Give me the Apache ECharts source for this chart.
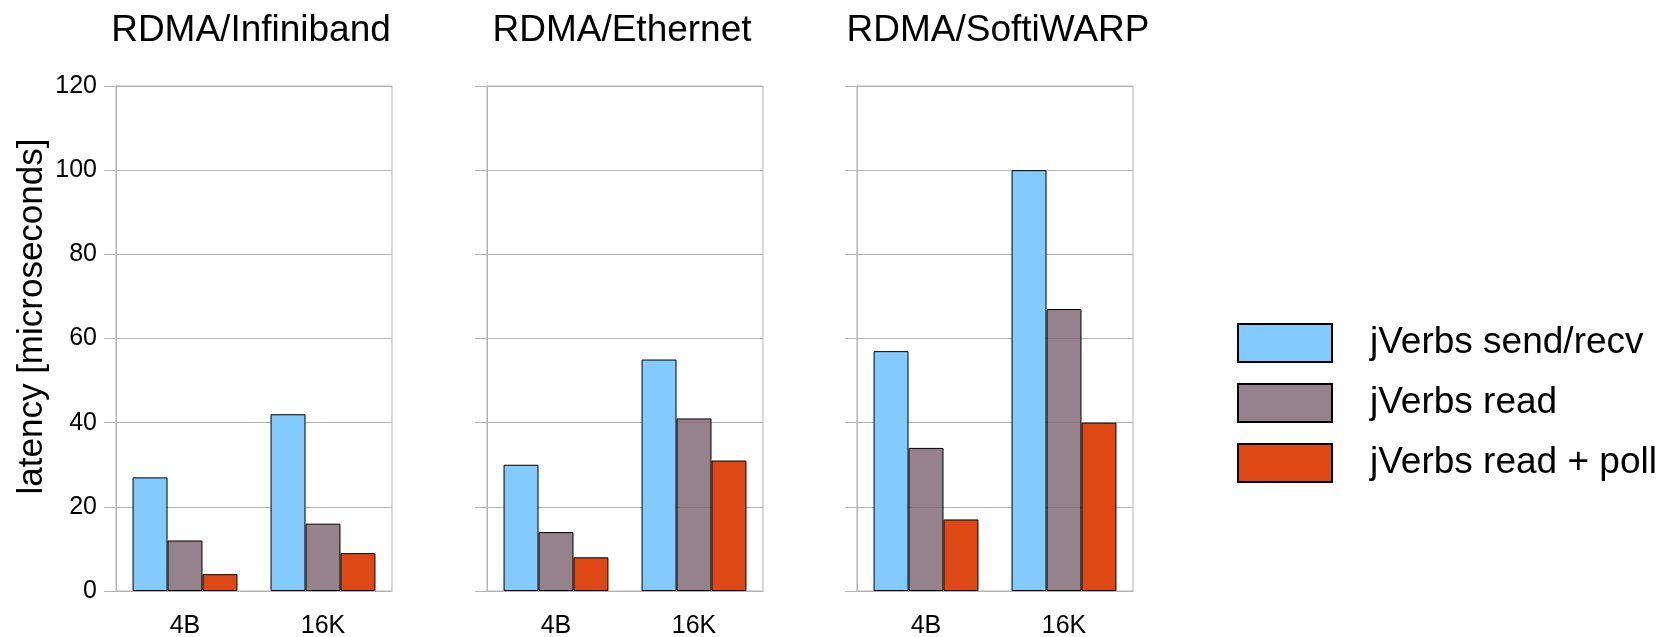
<!DOCTYPE html>
<html>
<head>
<meta charset="utf-8">
<script src="https://cdn.jsdelivr.net/npm/echarts@6/dist/echarts.min.js"></script>
<style>
	html, body { margin:0; padding:0; background:#fff; }
	#latencyChart { width:1664px; height:637px; }
</style>
</head>
<body>
<div id="latencyChart"></div>
<script>
var categories = ['4B', '16K'];
var panelTitles = ['RDMA/Infiniband', 'RDMA/Ethernet', 'RDMA/SoftiWARP'];
var seriesNames = ['jVerbs send/recv', 'jVerbs read', 'jVerbs read + poll'];
// one array per series, one pair per panel (4B, 16K)
var sendRecv = [[27, 42], [30, 55], [57, 100]];
var readOnly = [[12, 16], [14, 41], [34, 67]];
var readPoll = [[4, 9], [8, 31], [17, 40]];
var yTicks = [0, 20, 40, 60, 80, 100, 120];

/**
 * latency chart
 */
var latency = {
	// the grey one is a bit see-through in the original, grid lines show in it
	colors : ['#83caff', 'rgba(123,99,110,0.8)', '#dd4814'],
	lefts : [116, 487, 857],
	titleX : [246, 617, 993],
	/**
	 * build options
	 */
	init : function(){
		var values = [sendRecv, readOnly, readPoll];
		var grids = [], xAxes = [], yAxes = [], titles = [], series = [];
		for(var i=0; i<panelTitles.length; i++){
			grids.push({
				left: latency.lefts[i], top: 86, width: 276, height: 505,
				// labels run off the bottom edge in the original, don't shrink the grid
				outerBoundsMode: 'none',
				show: true, borderColor: '#b3b3b3', borderWidth: 1
			});
			titles.push({
				text: panelTitles[i],
				left: latency.titleX[i],
				top: 7,
				textAlign: 'center',
				textStyle: {fontFamily:'Liberation Sans', fontWeight:'normal', fontSize:37, color:'#000'}
			});
			xAxes.push({
				type: 'category', gridIndex: i, data: categories,
				axisLine: {lineStyle: {color:'#b3b3b3'}},
				axisTick: {length: 11, alignWithLabel: false, lineStyle: {color:'#b3b3b3'}},
				axisLabel: {margin: 23, fontFamily:'Liberation Sans', fontSize: 25, color:'#000'}
			});
			yAxes.push({
				type: 'value', gridIndex: i,
				min: yTicks[0], max: yTicks[yTicks.length-1], interval: 20,
				name: i == 0 ? 'latency [microseconds]' : '',
				nameLocation: 'middle', nameGap: 66,
				// left padding pushes the rotated name up a little
				nameTextStyle: {fontFamily:'Liberation Sans', fontSize: 35, color:'#000', padding:[0,0,0,44]},
				axisLine: {show: true, lineStyle: {color:'#b3b3b3'}},
				axisTick: {show: true, length: 12, lineStyle: {color:'#b3b3b3'}},
				splitLine: {lineStyle: {color:'#b3b3b3'}},
				axisLabel: {show: i == 0, margin: 19, fontFamily:'Liberation Sans', fontSize: 25, color:'#000'}
			});
			for(var s=0; s<seriesNames.length; s++){
				series.push({
					name: seriesNames[s], type: 'bar',
					xAxisIndex: i, yAxisIndex: i,
					data: values[s][i],
					barGap: '0%', barCategoryGap: '24%',
					itemStyle: {color: latency.colors[s], borderColor:'#000', borderWidth: 1}
				});
			}
		}
		latency.showChart(titles, grids, xAxes, yAxes, series);
	},
	/**
	 * draw chart
	 */
	showChart : function(titles, grids, xAxes, yAxes, series){
		var myChart = echarts.init(document.getElementById('latencyChart'));
		var option = {
			animation: false,
			color: latency.colors,
			title: titles,
			legend: {
				orient: 'vertical',
				left: 1237, top: 323, padding: 0,
				itemWidth: 94, itemHeight: 38, itemGap: 20,
				icon: 'rect',
				data: seriesNames,
				textStyle: {fontFamily:'Liberation Sans', fontSize: 37, color:'#000', padding:[0,0,0,33]}
			},
			grid: grids,
			xAxis: xAxes,
			yAxis: yAxes,
			series: series
		};
		myChart.setOption(option);
	}
};

latency.init();
</script>
</body>
</html>
